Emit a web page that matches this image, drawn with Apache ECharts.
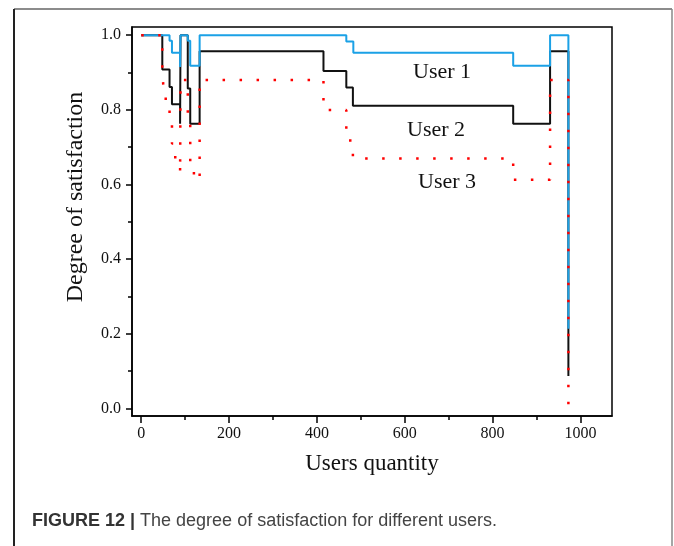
<!DOCTYPE html>
<html>
<head>
<meta charset="utf-8">
<script src="https://cdn.jsdelivr.net/npm/echarts@6/dist/echarts.min.js"></script>
<style>html,body{margin:0;padding:0;background:#fff}#c{width:674px;height:546px}</style>
</head>
<body>
<div id="c"></div>
<script>
// Step change points: [users quantity, degree of satisfaction from that point on]
var user1X = [0, 64.5, 70, 88.5, 89.5, 106, 111.6, 133, 467, 483, 847, 931, 972.7];
var user1Y = [1.0, 0.985, 0.953, 0.915, 1.0, 0.985, 0.918, 1.0, 0.983, 0.953, 0.918, 1.0, 0.214];

var user2X = [0, 48, 64.5, 70, 88.5, 89.5, 106, 111.6, 133, 415, 467, 482, 847, 931, 972.7];
var user2Y = [1.0, 0.908, 0.861, 0.815, 0.763, 1.0, 0.857, 0.763, 0.957, 0.904, 0.86, 0.811, 0.763, 0.957, 0.087];

var user3X = [0, 48, 52, 64.5, 70, 77.5, 88.5, 89.5, 106, 111.6, 120, 133, 415, 467, 476, 482, 847, 931, 972.7];
var user3Y = [1.0, 0.91, 0.83, 0.76, 0.71, 0.67, 0.63, 0.88, 0.78, 0.65, 0.613, 0.88, 0.8, 0.74, 0.70, 0.67, 0.613, 0.88, 0.0];

var xMajorTicks = [0, 200, 400, 600, 800, 1000];
var xMinorTicks = [100, 300, 500, 700, 900];
var yMajorTicks = [0.0, 0.2, 0.4, 0.6, 0.8, 1.0];
var yMinorTicks = [0.1, 0.3, 0.5, 0.7, 0.9];

var seriesNames = ['User 1', 'User 2', 'User 3'];
var xTitle = 'Users quantity';
var yTitle = 'Degree of satisfaction';
var captionBold = 'FIGURE 12 | ';
var captionText = 'The degree of satisfaction for different users.';

function pairs(xs, ys) { return xs.map(function (x, i) { return [x, ys[i]]; }); }

var serif = 'Liberation Serif';
var chart = echarts.init(document.getElementById('c'));
var xRange = {min: -21, max: 1072};
var yRange = {min: -0.02, max: 1.022};

chart.setOption({
  animation: false,
  backgroundColor: '#fff',
  grid: {left: 132, top: 27, right: 62, bottom: 130, show: true, borderColor: '#000', borderWidth: 1.5, backgroundColor: 'transparent'},
  xAxis: [{
    type: 'value', min: xRange.min, max: xRange.max, gridIndex: 0,
    axisLine: {show: true, onZero: false, lineStyle: {color: '#000', width: 1.5}},
    axisTick: {show: true, inside: false, length: 7, lineStyle: {color: '#000', width: 1.5}, customValues: xMajorTicks},
    axisLabel: {customValues: xMajorTicks, margin: 10, fontFamily: serif, fontSize: 16, color: '#111',
      formatter: function (v) { return String(v); }},
    splitLine: {show: false},
    name: xTitle, nameLocation: 'middle', nameGap: 36,
    nameTextStyle: {fontFamily: serif, fontSize: 23, color: '#111'}
  }, {
    type: 'value', min: xRange.min, max: xRange.max, gridIndex: 0, position: 'bottom',
    axisLine: {show: false, onZero: false},
    axisTick: {show: true, length: 4, lineStyle: {color: '#000', width: 1.5}, customValues: xMinorTicks},
    axisLabel: {show: false},
    splitLine: {show: false}
  }],
  yAxis: [{
    type: 'value', min: yRange.min, max: yRange.max, gridIndex: 0,
    axisLine: {show: true, onZero: false, lineStyle: {color: '#000', width: 1.5}},
    axisTick: {show: true, inside: false, length: 6, lineStyle: {color: '#000', width: 1.5}, customValues: yMajorTicks},
    axisLabel: {customValues: yMajorTicks, margin: 11, fontFamily: serif, fontSize: 16, color: '#111',
      formatter: function (v) { return Number(v).toFixed(1); }},
    splitLine: {show: false}
  }, {
    type: 'value', min: yRange.min, max: yRange.max, gridIndex: 0, position: 'left',
    axisLine: {show: false, onZero: false},
    axisTick: {show: true, length: 4, lineStyle: {color: '#000', width: 1.5}, customValues: yMinorTicks},
    axisLabel: {show: false},
    splitLine: {show: false}
  }],
  series: [{
    name: seriesNames[1], type: 'line', step: 'end', data: pairs(user2X, user2Y),
    showSymbol: false, symbol: 'none', z: 2,
    lineStyle: {color: '#111', width: 2}
  }, {
    name: seriesNames[0], type: 'line', step: 'end', data: pairs(user1X, user1Y),
    showSymbol: false, symbol: 'none', z: 3,
    lineStyle: {color: '#1ba1e6', width: 2}
  }, {
    name: seriesNames[2], type: 'line', step: 'end', data: pairs(user3X, user3Y),
    showSymbol: false, symbol: 'none', z: 4,
    lineStyle: {color: '#ff0000', width: 2.5, type: [2.5, 14.5], cap: 'butt'}
  }],
  graphic: [
    {type: 'line', shape: {x1: 14, y1: 9, x2: 672, y2: 9}, style: {stroke: '#666', lineWidth: 1.5}},
    {type: 'line', shape: {x1: 14, y1: 9, x2: 14, y2: 546}, style: {stroke: '#222', lineWidth: 2}},
    {type: 'line', shape: {x1: 672, y1: 9, x2: 672, y2: 546}, style: {stroke: '#888', lineWidth: 1.5}},
    {type: 'text', x: 76, y: 197, rotation: Math.PI / 2, style: {text: yTitle, font: '24px "Liberation Serif"', fill: '#111', align: 'center', verticalAlign: 'middle'}},
    {type: 'text', left: 413, top: 61, style: {text: seriesNames[0], font: '22px "Liberation Serif"', fill: '#111'}},
    {type: 'text', left: 407, top: 119, style: {text: seriesNames[1], font: '22px "Liberation Serif"', fill: '#111'}},
    {type: 'text', left: 418, top: 171, style: {text: seriesNames[2], font: '22px "Liberation Serif"', fill: '#111'}},
    {type: 'text', left: 32, top: 512, style: {
      text: '{b|' + captionBold + '}{r|' + captionText + '}',
      rich: {
        b: {fontFamily: 'Liberation Sans', fontWeight: 'bold', fontSize: 18, fill: '#333'},
        r: {fontFamily: 'Liberation Sans', fontSize: 18, fill: '#444'}
      }
    }}
  ]
});
</script>
</body>
</html>
